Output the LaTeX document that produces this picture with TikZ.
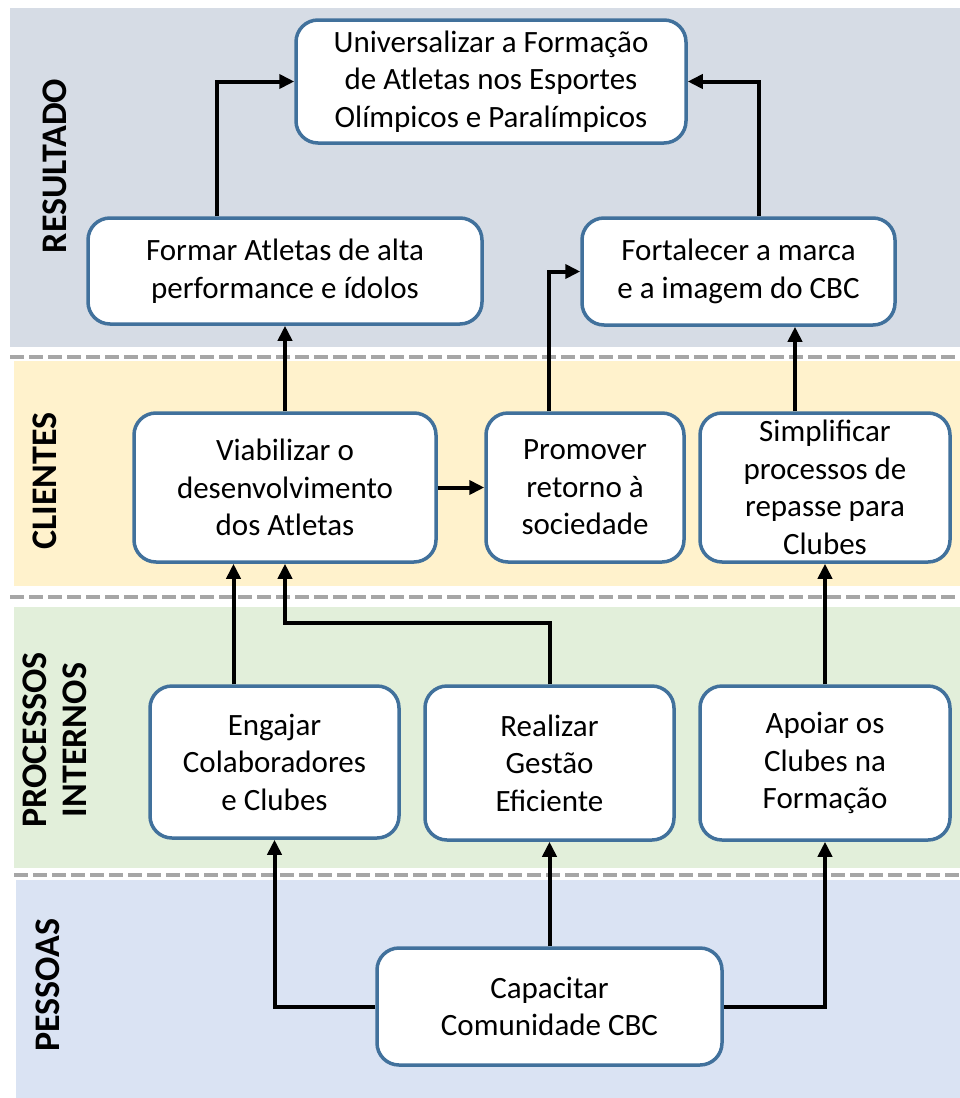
\documentclass[tikz,border=0pt]{standalone}
\usepackage{fontspec}
\setmainfont{Carlito}
\usepackage{xcolor}
\usetikzlibrary{positioning, arrows.meta}

\definecolor{borda}{HTML}{41719C}
\definecolor{resultado}{HTML}{D6DCE5}
\definecolor{clientes}{HTML}{FFF2CC}
\definecolor{processos}{HTML}{E2EFDA}
\definecolor{pessoas}{HTML}{DAE3F3}
\definecolor{tracejado}{HTML}{A6A6A6}

\tikzset{
	meta/.style={draw=borda, line width=3.5pt, fill=white, rounded corners=22pt, align=center, inner sep=0pt, font=\fontsize{31}{37.5}\selectfont},
	seta/.style={line width=4pt, -{Triangle[length=15pt,width=14pt]}},
	divisa/.style={draw=tracejado, line width=4pt, dash pattern=on 14pt off 5pt},
	titulo/.style={rotate=90, align=center, font=\bfseries\fontsize{36}{40}\selectfont}
}

\begin{document}
\begin{tikzpicture}[x=1pt, y=-1pt]
			\useasboundingbox (0,0) rectangle (960,1098);
			% faixas
			\fill[resultado] (10,8) rectangle (960,347);
			\fill[clientes] (14,361) rectangle (960,586);
			\fill[processos] (14,607) rectangle (960,868);
			\fill[pessoas] (16,880) rectangle (960,1098);
			\draw[divisa] (10,357) -- (960,357);
			\draw[divisa] (10,597) -- (960,597);
			\draw[divisa] (14,875) -- (960,875);
			
			\node[titulo] (tresultado) at (55,166) {RESULTADO};
			\node[titulo] (tclientes) at (45,481) {CLIENTES};
			\node[titulo] (tprocessos) at (55,740) {PROCESSOS\\INTERNOS};
			\node[titulo] (tpessoas) at (48,985) {PESSOAS};
			
			% metas
			\node[meta, minimum width=390pt, minimum height=123pt] (univ) at (491,81.5) {Universalizar a Formação\\de Atletas nos Esportes\\Olímpicos e Paralímpicos};
			\node[meta, minimum width=394pt, minimum height=106pt] (formar) at (285,271) {Formar Atletas de alta\\performance e ídolos};
			\node[meta, minimum width=313pt, minimum height=107pt] (fortal) at (738.5,271.5) {Fortalecer a marca\\e a imagem do CBC};
			\node[meta, minimum width=302pt, minimum height=149pt] (viab) at (285,487.5) {Viabilizar o\\desenvolvimento\\dos Atletas};
			\node[meta, minimum width=198pt, minimum height=149pt] (promover) at (585,487.5) {Promover\\retorno à\\sociedade};
			\node[meta, minimum width=250pt, minimum height=149pt] (simpl) at (825,487.5) {Simplificar\\processos de\\repasse para\\Clubes};
			\node[meta, minimum width=249pt, minimum height=152pt] (engajar) at (274.5,762) {Engajar\\Colaboradores\\e Clubes};
			\node[meta, minimum width=249pt, minimum height=154pt] (realizar) at (549.5,763) {Realizar\\Gestão\\Eficiente};
			\node[meta, minimum width=250pt, minimum height=154pt] (apoiar) at (825,763) {Apoiar os\\Clubes na\\Formação};
			\node[meta, minimum width=345pt, minimum height=117pt] (capacitar) at (549.5,1006.5) {Capacitar\\Comunidade CBC};
			
			% ligacoes
			\draw[seta] ([xshift=-68pt]formar.north) |- (univ.west);
			\draw[seta] ([xshift=20pt]fortal.north) |- (univ.east);
			\draw[seta] (viab.north) -- (formar.south);
			\draw[seta] ([xshift=-36pt]promover.north) |- (fortal.west);
			\draw[seta] ([xshift=-30pt]simpl.north) -- ([xshift=-30pt]simpl.north |- fortal.south);
			\draw[seta] (viab.east) -- (promover.west);
			\draw[seta] ([xshift=-41pt]engajar.north) -- ([xshift=-41pt]engajar.north |- viab.south);
			\draw[seta] (realizar.north) -- ++(0,-61) -| (viab.south);
			\draw[seta] (apoiar.north) -- (simpl.south);
			\draw[seta] (capacitar.west) -| (engajar.south);
			\draw[seta] (capacitar.north) -- (realizar.south);
			\draw[seta] (capacitar.east) -| (apoiar.south);
		\end{tikzpicture}
\end{document}
